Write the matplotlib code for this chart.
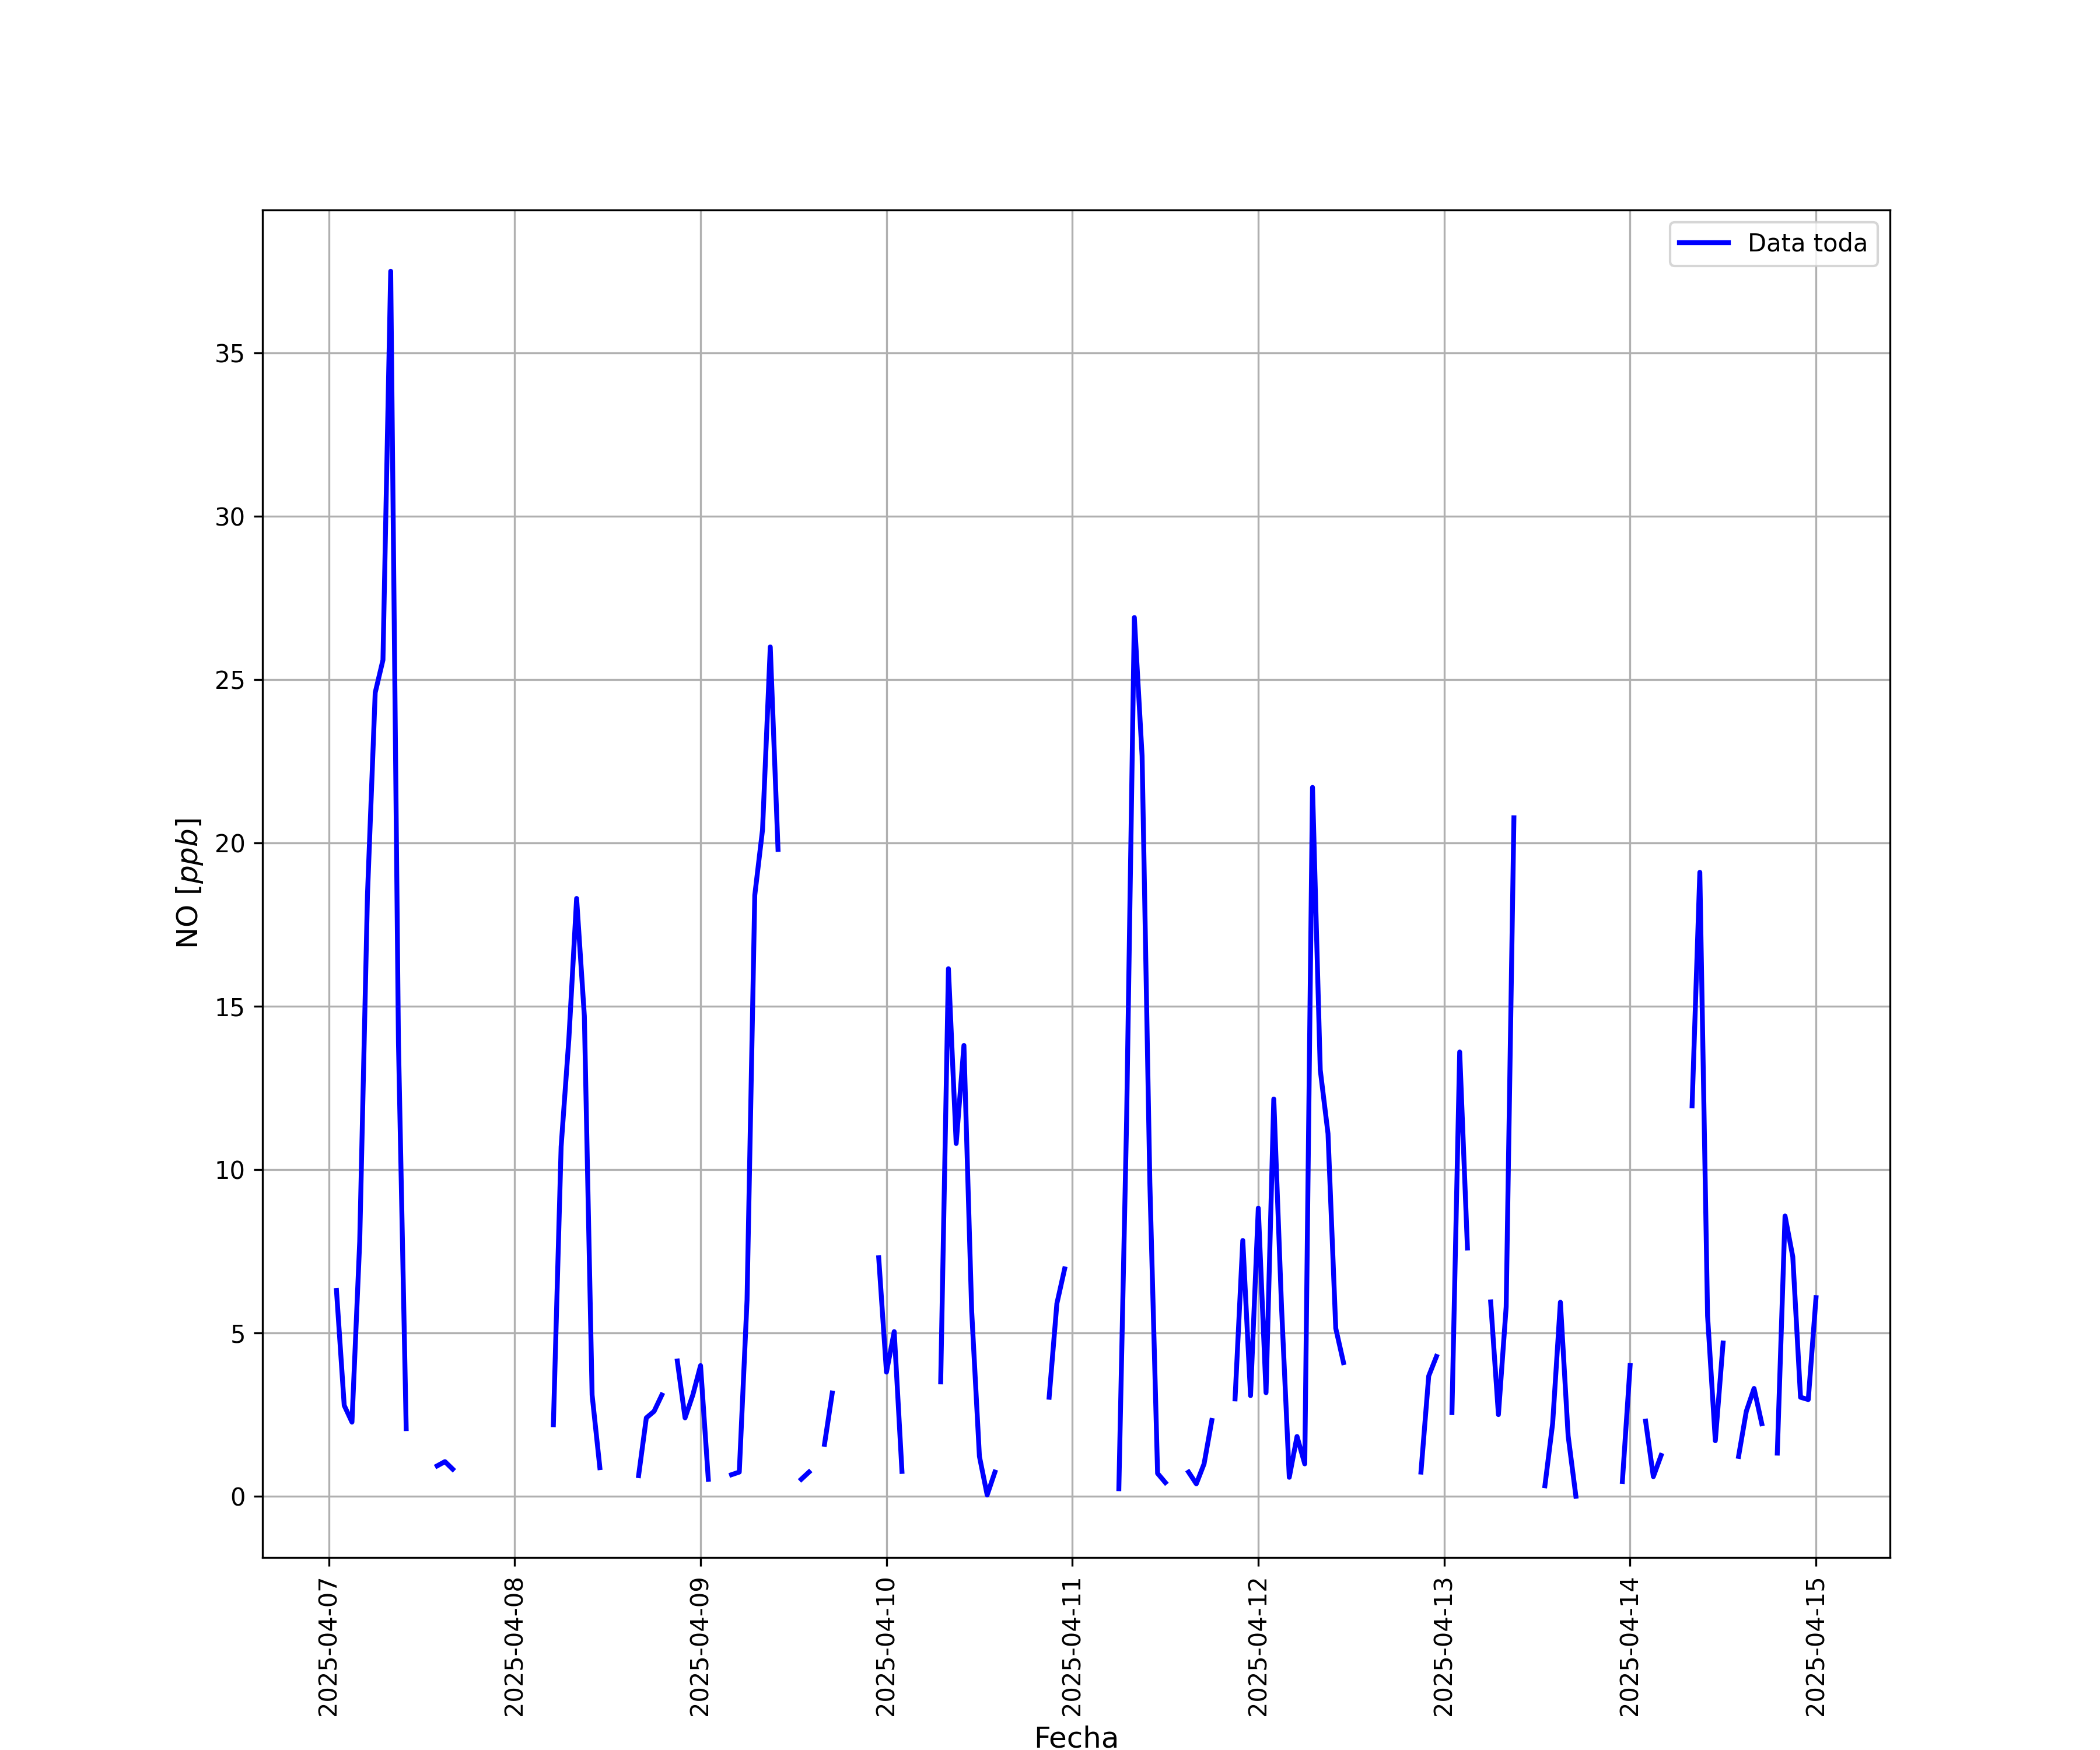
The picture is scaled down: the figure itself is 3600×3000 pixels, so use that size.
import numpy as np
import pandas as pd
import matplotlib
matplotlib.use("Agg")
import matplotlib.pyplot as plt

nan = np.nan

# Hourly NO values (ppb), hours 00..23 of each day; nan = missing
day_0407 = [nan, 6.3, 2.78, 2.27, 7.8, 18.4, 24.6, 25.6, 37.5, 13.9, 2.07, nan,
            nan, nan, 0.93, 1.06, 0.83, nan, nan, nan, nan, nan, nan, nan]
day_0408 = [nan, nan, nan, nan, nan, 2.19, 10.7, 14.0, 18.3, 14.7, 3.1, 0.875,
            nan, nan, nan, nan, 0.63, 2.4, 2.6, 3.1, nan, 4.14, 2.4, 3.1]
day_0409 = [4.0, 0.52, nan, nan, 0.66, 0.74, 6.0, 18.4, 20.4, 26.0, 19.8, nan,
            nan, 0.52, 0.74, nan, 1.59, 3.16, nan, nan, nan, nan, nan, 7.3]
day_0410 = [3.8, 5.04, 0.76, nan, nan, nan, nan, 3.5, 16.15, 10.8, 13.8, 5.67,
            1.22, 0.04, 0.74, nan, nan, nan, nan, nan, nan, 3.03, 5.9, 6.96]
day_0411 = [nan, nan, nan, nan, nan, nan, 0.23, 11.5, 26.9, 22.66, 9.6, 0.7,
            0.42, nan, nan, 0.74, 0.38, 0.99, 2.32, nan, nan, 2.98, 7.83, 3.08]
day_0412 = [8.82, 3.17, 12.16, 5.8, 0.58, 1.83, 0.99, 21.7, 13.05, 11.1, 5.14, 4.09,
            nan, nan, nan, nan, nan, nan, nan, nan, nan, 0.74, 3.68, 4.28]
day_0413 = [nan, 2.56, 13.6, 7.6, nan, nan, 5.95, 2.5, 5.8, 20.77, nan, nan,
            nan, 0.32, 2.23, 5.94, 1.85, 0.0, nan, nan, nan, nan, nan, 0.45]
day_0414 = [4.0, nan, 2.3, 0.6, 1.25, nan, nan, nan, 11.95, 19.1, 5.52, 1.7,
            4.69, nan, 1.22, 2.6, 3.3, 2.22, nan, 1.32, 8.58, 7.33, 3.03, 2.96]
day_0415 = [6.08]

values = day_0407 + day_0408 + day_0409 + day_0410 + day_0411 + day_0412 + day_0413 + day_0414 + day_0415
fechas = pd.date_range("2025-04-07 00:00", periods=len(values), freq="h")
serie = pd.Series(values, index=fechas)
serie = serie.loc[serie.first_valid_index():]

fig, ax = plt.subplots(figsize=(12, 10), dpi=300)
ax.plot(serie.index, serie.values, color="blue", linewidth=2, label="Data toda")
ax.set_xlabel("Fecha", fontsize=12)
ax.set_ylabel("NO [$ppb$]", fontsize=12)
ax.legend(loc="upper right")
ax.grid(True)
plt.xticks(rotation=90)

fig.savefig("out.png", dpi=300)
